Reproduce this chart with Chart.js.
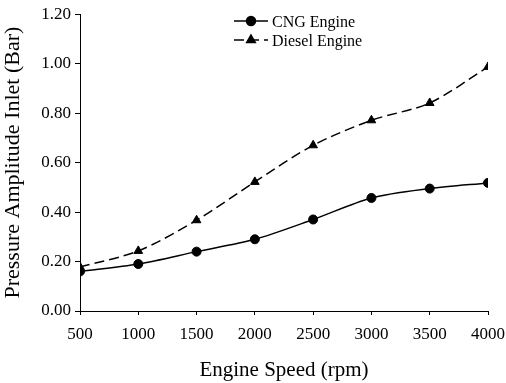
<!DOCTYPE html>
<html>
<head>
<meta charset="utf-8">
<script src="https://cdn.jsdelivr.net/npm/chart.js@4"></script>
<style>
    html, body { margin: 0; padding: 0; background: #fff; }
    #wrap { width: 506px; height: 383px; }
</style>
</head>
<body>
<div id="wrap"><canvas id="chart" width="506" height="383"></canvas></div>
<script>
// chart data
const speeds = [500, 1000, 1500, 2000, 2500, 3000, 3500, 4000];
const cngValues = [0.16, 0.19, 0.24, 0.29, 0.37, 0.457, 0.495, 0.518];
const dieselValues = [0.178, 0.243, 0.367, 0.522, 0.67, 0.771, 0.841, 0.987];
const yTicks = [0, 0.2, 0.4, 0.6, 0.8, 1.0, 1.2];
const seriesNames = ["CNG Engine", "Diesel Engine"];

const FONT = "'Liberation Serif', 'Times New Roman', serif";

// small legend drawn inside the plot, line + marker like the original
const lineLegend = {
    id: "lineLegend",
    afterDraw(chart) {
        const ctx = chart.ctx;
        const rows = [
            { y: 21, ds: chart.data.datasets[0] },
            { y: 40, ds: chart.data.datasets[1] },
        ];
        ctx.save();
        rows.forEach((row) => {
            const ds = row.ds;
            ctx.strokeStyle = "#000";
            ctx.lineWidth = 1.5;
            ctx.setLineDash(ds.borderDash || []);
            ctx.beginPath();
            ctx.moveTo(234, row.y);
            ctx.lineTo(268, row.y);
            ctx.stroke();
            ctx.setLineDash([]);
            Chart.helpers.drawPoint(ctx, {
                pointStyle: ds.pointStyle,
                radius: ds.pointRadius,
                borderWidth: 1,
            }, 251, row.y);
            ctx.fillStyle = "#000";
            ctx.font = "16px " + FONT;
            ctx.textBaseline = "middle";
            ctx.textAlign = "left";
            ctx.fillText(ds.label, 272, row.y + 2);
        });
        ctx.restore();
    },
};

const ctx = document.getElementById("chart").getContext("2d");
new Chart(ctx, {
    type: "line",
    data: {
        datasets: [
            {
                label: seriesNames[0],
                data: speeds.map((s, i) => ({ x: s, y: cngValues[i] })),
                borderColor: "#000",
                backgroundColor: "#000",
                borderWidth: 1.5,
                pointStyle: "circle",
                pointRadius: 4.5,
                pointBorderWidth: 1,
                tension: 0.3,
            },
            {
                label: seriesNames[1],
                data: speeds.map((s, i) => ({ x: s, y: dieselValues[i] })),
                borderColor: "#000",
                backgroundColor: "#000",
                borderWidth: 1.5,
                borderDash: [10, 5],
                pointStyle: "triangle",
                pointRadius: 5,
                pointBorderWidth: 1,
                tension: 0.3,
            },
        ],
    },
    options: {
        responsive: false,
        animation: false,
        layout: { padding: { top: 14, right: 18, left: 0, bottom: 0 } },
        plugins: {
            legend: { display: false },
            tooltip: { enabled: false },
        },
        scales: {
            x: {
                type: "linear",
                min: speeds[0],
                max: speeds[speeds.length - 1],
                afterBuildTicks: (axis) => {
                    axis.ticks = speeds.map((v) => ({ value: v }));
                },
                afterFit: (axis) => {
                    axis.height = 72;
                    axis.paddingLeft = 0;
                    axis.paddingRight = 0;
                },
                grid: { drawOnChartArea: false, drawTicks: true, tickLength: 4, color: "#000" },
                border: { color: "#000", width: 1 },
                ticks: {
                    color: "#000",
                    font: { family: FONT, size: 17 },
                    padding: 9,
                    maxRotation: 0,
                    callback: (v) => String(v),
                },
                title: {
                    display: true,
                    text: "Engine Speed (rpm)",
                    color: "#000",
                    font: { family: FONT, size: 21 },
                    padding: { top: 0, bottom: 0 },
                },
            },
            y: {
                min: 0,
                max: 1.2,
                afterBuildTicks: (axis) => {
                    axis.ticks = yTicks.map((v) => ({ value: v }));
                },
                afterFit: (axis) => { axis.width = 80; },
                grid: { drawOnChartArea: false, drawTicks: true, tickLength: 5, color: "#000" },
                border: { color: "#000", width: 1 },
                ticks: {
                    color: "#000",
                    font: { family: FONT, size: 17 },
                    padding: 4,
                    callback: (v) => Number(v).toFixed(2),
                },
                title: {
                    display: true,
                    text: "Pressure Amplitude Inlet (Bar)",
                    color: "#000",
                    font: { family: FONT, size: 22 },
                    padding: { top: 0, bottom: 0 },
                },
            },
        },
    },
    plugins: [lineLegend],
});
</script>
</body>
</html>
